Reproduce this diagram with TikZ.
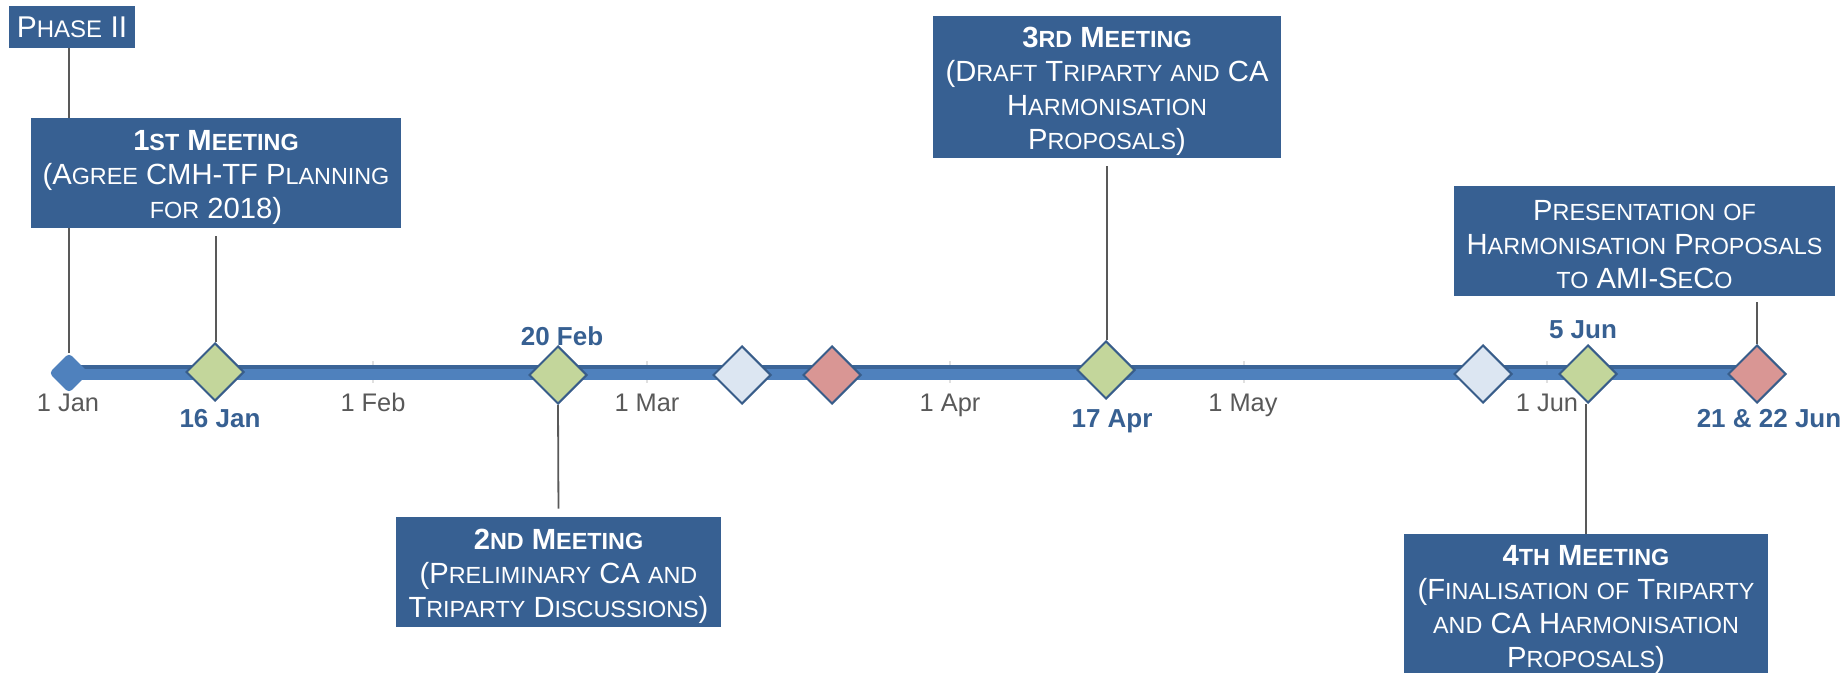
\documentclass[tikz,border=0pt]{standalone}
\usepackage{fontspec}
\setmainfont{Liberation Sans}
\newfontfamily\smf[Scale=0.8]{Liberation Sans}
\usetikzlibrary{shapes.geometric,backgrounds}
\definecolor{boxblue}{HTML}{376092}
\definecolor{barblue}{HTML}{4F81BD}
\definecolor{bardark}{HTML}{3B6598}
\definecolor{edgeblue}{HTML}{385D8A}
\definecolor{mgreen}{HTML}{C3D69B}
\definecolor{mlight}{HTML}{DCE6F2}
\definecolor{mred}{HTML}{D99694}
\definecolor{axgray}{HTML}{595959}
\newcommand\sca[1]{{\smf #1}}
\tikzset{
  box/.style={fill=boxblue, inner sep=0pt},
  boxtext/.style={text=white, align=center, inner sep=0pt, yshift=-2pt, font=\fontsize{14.6}{17}\selectfont},
  ms/.style={diamond, draw=edgeblue, line width=1pt, minimum width=29pt, minimum height=29pt, inner sep=0pt},
  conn/.style={draw=axgray, line width=0.9pt},
  axlab/.style={text=axgray, font=\fontsize{12.7}{14}\selectfont, anchor=base, inner sep=0pt},
  datelab/.style={text=boxblue, font=\bfseries\fontsize{13}{14}\selectfont, anchor=base, inner sep=0pt},
  tickln/.style={draw=black!12, line width=0.6pt}
}
\begin{document}
\begin{tikzpicture}[x=0.5pt,y=-0.5pt]
\useasboundingbox (0,0) rectangle (1846,673);
% milestones
\node[diamond, fill=barblue, minimum width=20pt, minimum height=20pt, inner sep=0pt, rounded corners=2pt] (jan1) at (69,373) {};
\node[ms, fill=mgreen] (d16) at (215,372) {};
\node[ms, fill=mgreen] (d20) at (558,375) {};
\node[ms, fill=mlight] (lb1) at (742,375) {};
\node[ms, fill=mred] (r1) at (832,375) {};
\node[ms, fill=mgreen] (d17) at (1106,370) {};
\node[ms, fill=mlight] (lb2) at (1483,374) {};
\node[ms, fill=mgreen] (d5) at (1588,374) {};
\node[ms, fill=mred] (r2) at (1757,374) {};
% boxes
\node[box, text=white, font=\fontsize{15}{18}\selectfont, minimum width=63pt, minimum height=21pt] (phase) at (72,27) {P\sca{HASE} II};
\node[box, minimum width=185pt, minimum height=55pt,
  label={[boxtext]center:{\bfseries 1\sca{ST} M\sca{EETING}\\(A\sca{GREE} CMH-TF P\sca{LANNING}\\\sca{FOR} 2018)}}] (m1) at (216,173) {};
\node[box, minimum width=162.5pt, minimum height=55pt,
  label={[boxtext]center:{\bfseries 2\sca{ND} M\sca{EETING}\\(P\sca{RELIMINARY} CA \sca{AND}\\T\sca{RIPARTY} D\sca{ISCUSSIONS})}}] (m2) at (558.5,572) {};
\node[box, minimum width=174pt, minimum height=71pt,
  label={[boxtext]center:{\bfseries 3\sca{RD} M\sca{EETING}\\(D\sca{RAFT} T\sca{RIPARTY} \sca{AND} CA\\H\sca{ARMONISATION}\\P\sca{ROPOSALS})}}] (m3) at (1107,87) {};
\node[box, minimum width=190.5pt, minimum height=55pt,
  label={[boxtext]center:{P\sca{RESENTATION} \sca{OF}\\H\sca{ARMONISATION} P\sca{ROPOSALS}\\\sca{TO} AMI-S\sca{E}C\sca{O}}}] (pres) at (1644.5,241) {};
\node[box, minimum width=182pt, minimum height=71pt,
  label={[boxtext]center:{\bfseries 4\sca{TH} M\sca{EETING}\\(F\sca{INALISATION} \sca{OF} T\sca{RIPARTY}\\\sca{AND} CA H\sca{ARMONISATION}\\P\sca{ROPOSALS})}}] (m4) at (1586,605) {};
% axis labels
\node[axlab] (l1) at (68,412) {1 Jan};
\node[axlab] (l2) at (373,412) {1 Feb};
\node[axlab] (l3) at (647,412) {1 Mar};
\node[axlab] (l4) at (950,412) {1 Apr};
\node[axlab] (l5) at (1243,412) {1 May};
\node[axlab] (l6) at (1547,412) {1 Jun};
% date labels
\node[datelab] (t16) at (220,427) {16 Jan};
\node[datelab] (t20) at (562,346) {20 Feb};
\node[datelab] (t17) at (1112,427) {17 Apr};
\node[datelab] (t5) at (1583,339) {5 Jun};
\node[datelab] (t21) at (1769,428) {21 \& 22 Jun};
\begin{scope}[on background layer]
  \foreach \tx in {373,647,950,1244,1547} \draw[tickln] (\tx,361) -- (\tx,383);
  \fill[barblue] (jan1.center |- 0,365) rectangle (r2.center |- 0,380);
  \fill[bardark] (jan1.center |- 0,365) rectangle (r2.center |- 0,369.5);
  \draw[conn] (phase.south -| jan1.north) -- (jan1.north);
  \draw[conn, shorten <=4pt] (m1.south) -- (m1.south |- d16.north);
  \draw[conn, shorten >=4pt] (d20.south) -- (m2.north);
  \draw[conn, shorten <=4pt] (m3.south) -- (m3.south |- d17.north);
  \draw[conn, shorten <=3pt] (pres.south -| r2.north) -- (r2.north);
  \draw[conn] (d5.south -| m4.north) -- (m4.north);
\end{scope}
\end{tikzpicture}
\end{document}
